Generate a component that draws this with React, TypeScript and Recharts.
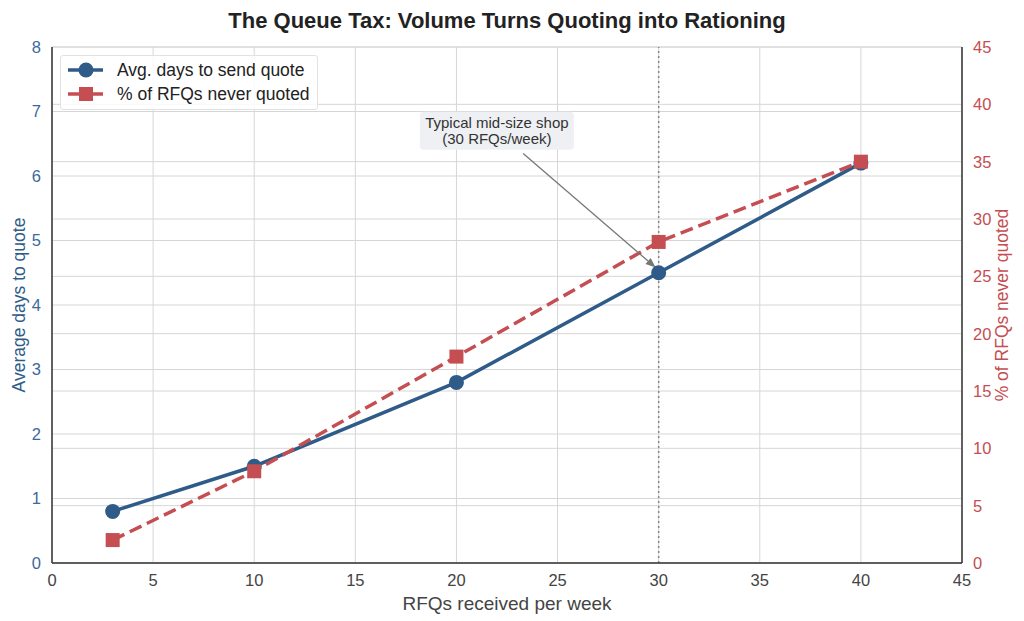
import { CartesianGrid, ComposedChart, Line, ReferenceDot, ReferenceLine, XAxis, YAxis } from 'recharts'

const rfqs = [3, 10, 20, 30, 40]
const avgDays = [0.8, 1.5, 2.8, 4.5, 6.2]
const neverQuotedPct = [2, 8, 18, 28, 35]
const xTicks = [0, 5, 10, 15, 20, 25, 30, 35, 40, 45]
const leftTicks = [0, 1, 2, 3, 4, 5, 6, 7, 8]
const rightTicks = [0, 5, 10, 15, 20, 25, 30, 35, 40, 45]

const BLUE = '#2e5b88'
const RED = '#c44e52'
const FONT = '"Liberation Sans", Arial, sans-serif'

const data = rfqs.map((x, i) => ({ x, days: avgDays[i], pct: neverQuotedPct[i] }))

function SquareDot(props: any) {
  const { cx, cy, index } = props
  if (cx == null || cy == null) return null
  return <rect key={`sq-${index}`} x={cx - 7} y={cy - 7} width={14} height={14} fill={RED} />
}

function CircleDot(props: any) {
  const { cx, cy, index } = props
  if (cx == null || cy == null) return null
  return <circle key={`c-${index}`} cx={cx} cy={cy} r={7.5} fill={BLUE} />
}

function ArrowShape(props: any) {
  const { x1, y1, x2, y2 } = props
  const ang = Math.atan2(y2 - y1, x2 - x1)
  const len = 10
  const w = 4
  const bx = x2 - len * Math.cos(ang)
  const by = y2 - len * Math.sin(ang)
  const px = -Math.sin(ang) * w
  const py = Math.cos(ang) * w
  return (
    <g>
      <line x1={x1} y1={y1} x2={bx} y2={by} stroke="#777" strokeWidth={1.3} />
      <polygon points={`${x2},${y2} ${bx + px},${by + py} ${bx - px},${by - py}`} fill="#777" />
    </g>
  )
}

function NoteLabel(props: any) {
  const { viewBox } = props
  const cx = viewBox.cx ?? viewBox.x
  const cy = viewBox.cy ?? viewBox.y
  return (
    <g>
      <rect x={cx - 77} y={cy - 19} width={154} height={38} rx={4} fill="#eef0f3" />
      <text x={cx} y={cy - 3} textAnchor="middle" fontSize={15} fill="#333" fontFamily={FONT}>Typical mid-size shop</text>
      <text x={cx} y={cy + 13} textAnchor="middle" fontSize={15} fill="#333" fontFamily={FONT}>(30 RFQs/week)</text>
    </g>
  )
}

export default function App() {
  return (
    <div style={{ position: 'absolute', left: 0, top: 0, width: 1024, height: 621, background: '#fff', fontFamily: FONT }}>
      <div style={{ position: 'absolute', left: 0, top: 8, width: 1014, textAlign: 'center', fontSize: 22, fontWeight: 'bold', color: '#222' }}>
        The Queue Tax: Volume Turns Quoting into Rationing
      </div>
      <ComposedChart width={1024} height={621} data={data} margin={{ top: 47, right: 0, bottom: 0, left: 0 }}>
        <CartesianGrid yAxisId="left" stroke="#d6d6d6" strokeWidth={1} />
        <CartesianGrid yAxisId="right" stroke="#d6d6d6" strokeWidth={1} vertical={false} />
        <XAxis
          type="number"
          dataKey="x"
          domain={[0, 45]}
          ticks={xTicks}
          height={58}
          tickLine={false}
          tickMargin={5}
          stroke="#333"
          strokeWidth={1.5}
          tick={{ fill: '#444', fontSize: 16.5, fontFamily: FONT }}
          label={{ value: 'RFQs received per week', position: 'insideBottom', offset: 11, fill: '#444', fontSize: 19, fontFamily: FONT }}
        />
        <YAxis
          yAxisId="left"
          domain={[0, 8]}
          ticks={leftTicks}
          width={52}
          tickLine={false}
          tickMargin={5}
          stroke="#333"
          strokeWidth={1.5}
          tick={{ fill: '#3b6a9b', fontSize: 16.5, fontFamily: FONT }}
          label={{ value: 'Average days to quote', angle: -90, position: 'insideLeft', offset: 19, fill: BLUE, fontSize: 17.5, fontFamily: FONT, style: { textAnchor: 'middle' } }}
        />
        <YAxis
          yAxisId="right"
          orientation="right"
          domain={[0, 45]}
          ticks={rightTicks}
          width={62}
          tickLine={false}
          tickMargin={5}
          stroke="#333"
          strokeWidth={1.5}
          tick={{ fill: RED, fontSize: 16.5, fontFamily: FONT }}
          label={{ value: '% of RFQs never quoted', angle: -90, position: 'insideRight', offset: 22, fill: RED, fontSize: 17.5, fontFamily: FONT, style: { textAnchor: 'middle' } }}
        />
        <ReferenceLine yAxisId="left" x={30} stroke="#888" strokeWidth={1.5} strokeDasharray="2 3" />
        <Line
          yAxisId="left"
          type="linear"
          dataKey="days"
          stroke={BLUE}
          strokeWidth={3.5}
          dot={<CircleDot />}
          isAnimationActive={false}
        />
        <Line
          yAxisId="right"
          type="linear"
          dataKey="pct"
          stroke={RED}
          strokeWidth={3.5}
          strokeDasharray="13 6"
          dot={<SquareDot />}
          isAnimationActive={false}
        />
        <ReferenceLine
          yAxisId="left"
          segment={[{ x: 23.3, y: 6.35 }, { x: 29.85, y: 4.58 }]}
          shape={<ArrowShape />}
        />
        <ReferenceDot yAxisId="left" x={22.0} y={6.7} r={0} fill="none" stroke="none" label={<NoteLabel />} />
      </ComposedChart>
      <div style={{ position: 'absolute', left: 60, top: 55, width: 258, height: 55, background: 'rgba(255,255,255,0.85)', border: '1px solid #e2e2e2', borderRadius: 3, boxSizing: 'border-box' }}>
        <svg width={258} height={55} style={{ position: 'absolute', left: 0, top: 0 }}>
          <line x1={7} y1={14} x2={42} y2={14} stroke={BLUE} strokeWidth={3.5} />
          <circle cx={25} cy={14} r={7.5} fill={BLUE} />
          <line x1={7} y1={38} x2={42} y2={38} stroke={RED} strokeWidth={3.5} />
          <rect x={18} y={31} width={14} height={14} fill={RED} />
          <text x={56} y={20} fontSize={17.5} fill="#222" fontFamily={FONT}>Avg. days to send quote</text>
          <text x={56} y={44} fontSize={17.5} fill="#222" fontFamily={FONT}>% of RFQs never quoted</text>
        </svg>
      </div>
    </div>
  )
}
